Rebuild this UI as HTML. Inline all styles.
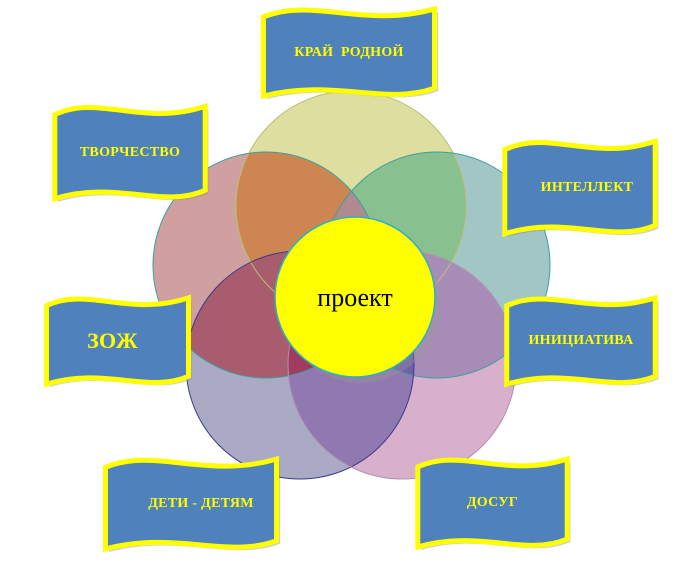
<!DOCTYPE html>
<html><head><meta charset="utf-8"><style>
body{margin:0;width:692px;height:577px;background:#fff;overflow:hidden;position:relative;font-family:"Liberation Serif",serif}
.b{position:absolute}
.b svg{position:absolute;left:0;top:0;overflow:visible}
.b span{position:absolute;left:0;right:0;top:50%;transform:translateY(-50%);text-align:center;color:#ffff00;font-weight:bold;font-size:14px;letter-spacing:0.3px}
</style></head><body>
<svg width="692" height="577" style="position:absolute;left:0;top:0">
<defs>
<clipPath id="cY"><circle cx="351" cy="206" r="115"/></clipPath>
<clipPath id="cL"><circle cx="266" cy="265" r="113"/></clipPath>
<clipPath id="cR"><circle cx="437" cy="265" r="113"/></clipPath>
<clipPath id="cG"><circle cx="300" cy="365" r="114"/></clipPath>
<clipPath id="cP"><circle cx="402" cy="365" r="114"/></clipPath>
</defs>
<circle cx="266" cy="265" r="113" fill="#d0a0a0"/>
<circle cx="437" cy="265" r="113" fill="#a2c6c6"/>
<circle cx="300" cy="365" r="114" fill="#aaaac4"/>
<circle cx="402" cy="365" r="114" fill="#d8b0cc"/>
<circle cx="351" cy="206" r="115" fill="#dedea0"/>
<g clip-path="url(#cY)"><circle cx="266" cy="265" r="113" fill="#cd8552"/><circle cx="437" cy="265" r="113" fill="#88c090"/></g>
<g clip-path="url(#cY)"><g clip-path="url(#cL)"><circle cx="437" cy="265" r="113" fill="#9a6a50"/></g></g>
<g clip-path="url(#cL)"><circle cx="437" cy="265" r="113" fill="#b08a90"/><circle cx="300" cy="365" r="114" fill="#a85c6e"/></g>
<g clip-path="url(#cR)"><circle cx="402" cy="365" r="114" fill="#a88cb8"/></g>
<g clip-path="url(#cG)"><circle cx="402" cy="365" r="114" fill="#9078b0"/></g>
<g clip-path="url(#cL)"><g clip-path="url(#cG)"><circle cx="402" cy="365" r="114" fill="#a03c60"/></g></g>
<g clip-path="url(#cR)"><g clip-path="url(#cP)"><circle cx="300" cy="365" r="114" fill="#7060a8"/></g></g>
<g fill="none" stroke-width="1">
<circle cx="351" cy="206" r="115" stroke="#b8c070"/>
<circle cx="266" cy="265" r="113" stroke="#3aa0a0"/>
<circle cx="437" cy="265" r="113" stroke="#3aa0a0"/>
<circle cx="300" cy="365" r="114" stroke="#3a3a90"/>
<circle cx="402" cy="365" r="114" stroke="#b090b0"/>
</g>
<circle cx="358" cy="300" r="80" fill="#999" opacity="0.35" transform="translate(3,3)"/>
<circle cx="355" cy="297" r="80" fill="#ffff00" stroke="#30b0c0" stroke-width="1.5"/>
<text x="355" y="306" text-anchor="middle" font-family="Liberation Serif, serif" font-size="26">проект</text>
</svg>

<div class="b" style="left:258px;top:3px;width:182px;height:99px"><svg width="182" height="99" viewBox="0 0 100 100" preserveAspectRatio="none"><path d="M3,14 C30,-6 58,26 97,6 L97,86 C70,104 42,76 3,94 Z" fill="#888" opacity=".4" transform="translate(2,3)"/><path d="M3,14 C30,-6 58,26 97,6 L97,86 C70,104 42,76 3,94 Z" fill="#4f81bd" stroke="#ffff00" stroke-width="5" vector-effect="non-scaling-stroke"/></svg><span>КРАЙ &nbsp;РОДНОЙ</span></div>

<div class="b" style="left:50px;top:100px;width:160px;height:105px"><svg width="160" height="105" viewBox="0 0 100 100" preserveAspectRatio="none"><path d="M3,14 C30,-6 58,26 97,6 L97,86 C70,104 42,76 3,94 Z" fill="#888" opacity=".4" transform="translate(2,3)"/><path d="M3,14 C30,-6 58,26 97,6 L97,86 C70,104 42,76 3,94 Z" fill="#4f81bd" stroke="#ffff00" stroke-width="5" vector-effect="non-scaling-stroke"/></svg><span>ТВОРЧЕСТВО</span></div>

<div class="b" style="left:500px;top:135px;width:160px;height:105px"><svg width="160" height="105" viewBox="0 0 100 100" preserveAspectRatio="none"><path d="M3,14 C30,-6 58,26 97,6 L97,86 C70,104 42,76 3,94 Z" fill="#888" opacity=".4" transform="translate(2,3)"/><path d="M3,14 C30,-6 58,26 97,6 L97,86 C70,104 42,76 3,94 Z" fill="#4f81bd" stroke="#ffff00" stroke-width="5" vector-effect="non-scaling-stroke"/></svg><span style="padding-left:14px">ИНТЕЛЛЕКТ</span></div>

<div class="b" style="left:42px;top:292px;width:151px;height:98px"><svg width="151" height="98" viewBox="0 0 100 100" preserveAspectRatio="none"><path d="M3,14 C30,-6 58,26 97,6 L97,86 C70,104 42,76 3,94 Z" fill="#888" opacity=".4" transform="translate(2,3)"/><path d="M3,14 C30,-6 58,26 97,6 L97,86 C70,104 42,76 3,94 Z" fill="#4f81bd" stroke="#ffff00" stroke-width="5" vector-effect="non-scaling-stroke"/></svg><span style="font-size:22px;padding-right:10px">ЗОЖ</span></div>

<div class="b" style="left:502px;top:292px;width:158px;height:98px"><svg width="158" height="98" viewBox="0 0 100 100" preserveAspectRatio="none"><path d="M3,14 C30,-6 58,26 97,6 L97,86 C70,104 42,76 3,94 Z" fill="#888" opacity=".4" transform="translate(2,3)"/><path d="M3,14 C30,-6 58,26 97,6 L97,86 C70,104 42,76 3,94 Z" fill="#4f81bd" stroke="#ffff00" stroke-width="5" vector-effect="non-scaling-stroke"/></svg><span>ИНИЦИАТИВА</span></div>

<div class="b" style="left:100px;top:453px;width:182px;height:102px"><svg width="182" height="102" viewBox="0 0 100 100" preserveAspectRatio="none"><path d="M3,14 C30,-6 58,26 97,6 L97,86 C70,104 42,76 3,94 Z" fill="#888" opacity=".4" transform="translate(2,3)"/><path d="M3,14 C30,-6 58,26 97,6 L97,86 C70,104 42,76 3,94 Z" fill="#4f81bd" stroke="#ffff00" stroke-width="5" vector-effect="non-scaling-stroke"/></svg><span style="padding-left:20px">ДЕТИ - ДЕТЯМ</span></div>

<div class="b" style="left:413px;top:453px;width:159px;height:100px"><svg width="159" height="100" viewBox="0 0 100 100" preserveAspectRatio="none"><path d="M3,14 C30,-6 58,26 97,6 L97,86 C70,104 42,76 3,94 Z" fill="#888" opacity=".4" transform="translate(2,3)"/><path d="M3,14 C30,-6 58,26 97,6 L97,86 C70,104 42,76 3,94 Z" fill="#4f81bd" stroke="#ffff00" stroke-width="5" vector-effect="non-scaling-stroke"/></svg><span>ДОСУГ</span></div>
</body></html>
